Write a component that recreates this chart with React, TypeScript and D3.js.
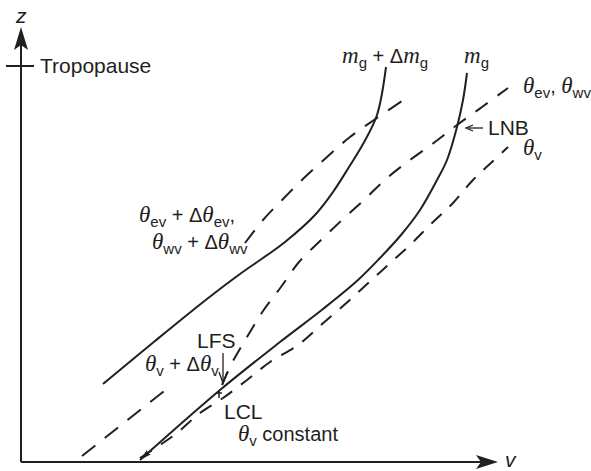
import React from 'react';
import * as d3 from 'd3';

// Conceptual axes: v (horizontal) and z (vertical), arbitrary units
const vDomain: [number, number] = [0, 477];
const zDomain: [number, number] = [0, 435];

const tropopauseZ = 396;

// m_g + Δm_g (solid)
const mgPlusDeltaCurve: [number, number][] = [
  [82, 78], [134, 121], [186, 163], [219, 188], [242, 204], [264, 220],
  [294, 247], [312, 270], [328, 295], [342, 318], [356, 347], [365, 395],
];
// m_g (solid)
const mgCurve: [number, number][] = [
  [119, 2], [199, 72], [259, 120], [302, 153], [337, 182], [359, 204],
  [380, 227], [399, 252], [416, 282], [426, 302], [436, 335], [442, 362], [446, 389],
];
// θev + Δθev, θwv + Δθwv (dashed)
const thetaEvPlusCurve: [number, number][] = [
  [224, 219], [242, 242], [263, 264], [284, 285], [306, 305], [329, 325], [356, 344], [381, 361],
];
// θev, θwv (dashed)
const thetaEvCurve: [number, number][] = [
  [201, 77], [211, 99], [226, 125], [242, 151], [260, 175], [278, 200], [299, 221],
  [321, 242], [344, 263], [366, 284], [389, 302], [414, 320], [436, 337], [461, 355], [487, 374],
];
// θv + Δθv (dashed)
const thetaVPlusCurve: [number, number][] = [
  [61, 6], [147, 74],
];
// θv (dashed)
const thetaVCurve: [number, number][] = [
  [119, 4], [139, 17], [156, 29], [179, 49], [202, 64], [226, 82], [249, 100], [277, 117],
  [300, 137], [322, 156], [345, 177], [367, 197], [389, 217], [411, 239], [432, 259],
  [452, 282], [471, 300], [487, 315],
];

const INK = '#231f20';
const SANS = '"Liberation Sans", Arial, Helvetica, sans-serif';
const SERIF = '"Liberation Serif", "Times New Roman", serif';
const FS = 21;

const x = d3.scaleLinear().domain(vDomain).range([21, 498]);
const y = d3.scaleLinear().domain(zDomain).range([462, 27]);
const line = d3
  .line<[number, number]>()
  .x((d) => x(d[0]))
  .y((d) => y(d[1]))
  .curve(d3.curveCatmullRom.alpha(0.5));

type Seg = { t: string; k: 'n' | 'it' | 'sub' };

function Label({ px, py, segs }: { px: number; py: number; segs: Seg[] }) {
  let low = false;
  const out: React.ReactNode[] = [];
  segs.forEach((s, i) => {
    let dy = 0;
    if (s.k === 'sub' && !low) { dy = 5; low = true; }
    else if (s.k !== 'sub' && low) { dy = -5; low = false; }
    const props: any = { key: i };
    if (dy) props.dy = dy;
    if (s.k === 'it') { props.fontFamily = SERIF; props.fontStyle = 'italic'; props.fontSize = 23; }
    if (s.k === 'sub') { props.fontSize = 15; }
    out.push(<tspan {...props}>{s.t}</tspan>);
  });
  return (
    <text x={px} y={py} fontFamily={SANS} fontSize={20} fill={INK} style={{ whiteSpace: 'pre' }}>
      {out}
    </text>
  );
}

function arrowHead(tipX: number, tipY: number, angle: number, len: number, half: number, notch: number) {
  const ca = Math.cos(angle), sa = Math.sin(angle);
  const pt = (a: number, b: number) => [tipX - a * ca - b * -sa, tipY - a * sa - b * ca];
  const p1 = pt(len, half);
  const p2 = pt(len - notch, 0);
  const p3 = pt(len, -half);
  return `M${tipX},${tipY}L${p1[0]},${p1[1]}L${p2[0]},${p2[1]}L${p3[0]},${p3[1]}Z`;
}

export default function App() {
  const x0 = x(0), y0 = y(0);
  const xEnd = x(vDomain[1]), yEnd = y(zDomain[1]);
  const tz = y(tropopauseZ);

  // arrow at bottom of m_g
  const a0 = mgCurve[0], a1 = mgCurve[1];
  const angMg = Math.atan2(y(a0[1]) - y(a1[1]), x(a0[0]) - x(a1[0]));

  return (
    <svg width={591} height={471} style={{ position: 'absolute', left: 0, top: 0, background: '#fff' }}>
      {/* axes */}
      <line x1={x0} y1={y0} x2={x0} y2={yEnd + 10} stroke={INK} strokeWidth={2} />
      <line x1={x0} y1={y0} x2={xEnd - 10} y2={y0} stroke={INK} strokeWidth={2} />
      <path d={arrowHead(x0, yEnd, -Math.PI / 2, 23, 7, 5)} fill={INK} />
      <path d={arrowHead(xEnd, y0, 0, 22, 7, 5)} fill={INK} />
      <line x1={6} y1={tz} x2={34} y2={tz} stroke={INK} strokeWidth={2} />
      <text x={16} y={23} fontFamily={SANS} fontStyle="italic" fontSize={FS} fill={INK}>z</text>
      <text x={505} y={467} fontFamily={SANS} fontStyle="italic" fontSize={FS} fill={INK}>v</text>
      <text x={40} y={73} fontFamily={SANS} fontSize={FS} fill={INK}>Tropopause</text>

      {/* solid curves */}
      <path d={line(mgPlusDeltaCurve) || ''} fill="none" stroke={INK} strokeWidth={2} />
      <path d={line(mgCurve) || ''} fill="none" stroke={INK} strokeWidth={2} />
      <path d={arrowHead(x(a0[0]), y(a0[1]), angMg, 12, 3, 2)} fill={INK} />

      {/* dashed curves */}
      <path d={line(thetaEvPlusCurve) || ''} fill="none" stroke={INK} strokeWidth={2} strokeDasharray="16 12" />
      <path d={line(thetaEvCurve) || ''} fill="none" stroke={INK} strokeWidth={2} strokeDasharray="15 12" />
      <path d={line(thetaVPlusCurve) || ''} fill="none" stroke={INK} strokeWidth={2} strokeDasharray="17 12" />
      <path d={line(thetaVCurve) || ''} fill="none" stroke={INK} strokeWidth={2} strokeDasharray="14 11" />

      {/* LCL bracket */}
      <line x1={219} y1={390} x2={219} y2={398} stroke={INK} strokeWidth={1.5} />
      <line x1={216} y1={393} x2={222} y2={393} stroke={INK} strokeWidth={1.5} />

      {/* LFS arrow */}
      <line x1={223} y1={353} x2={223} y2={382} stroke={INK} strokeWidth={1.3} />
      <path d="M219,372 L223,383 L227,372" fill="none" stroke={INK} strokeWidth={1.3} />

      {/* LNB arrow */}
      <line x1={468} y1={128} x2={483} y2={128} stroke={INK} strokeWidth={1.3} />
      <path d="M473,125 L466,128 L473,131" fill="none" stroke={INK} strokeWidth={1.3} />

      {/* labels */}
      <Label px={342} py={63} segs={[{ t: 'm', k: 'it' }, { t: 'g', k: 'sub' }, { t: ' + Δ', k: 'n' }, { t: 'm', k: 'it' }, { t: 'g', k: 'sub' }]} />
      <Label px={464} py={63} segs={[{ t: 'm', k: 'it' }, { t: 'g', k: 'sub' }]} />
      <Label px={523} py={93} segs={[{ t: 'θ', k: 'it' }, { t: 'ev', k: 'sub' }, { t: ', ', k: 'n' }, { t: 'θ', k: 'it' }, { t: 'wv', k: 'sub' }]} />
      <text x={488} y={135} fontFamily={SANS} fontSize={FS} fill={INK}>LNB</text>
      <Label px={523} py={155} segs={[{ t: 'θ', k: 'it' }, { t: 'v', k: 'sub' }]} />
      <Label px={139} py={222} segs={[{ t: 'θ', k: 'it' }, { t: 'ev', k: 'sub' }, { t: ' + Δ', k: 'n' }, { t: 'θ', k: 'it' }, { t: 'ev', k: 'sub' }, { t: ',', k: 'n' }]} />
      <Label px={152} py={249} segs={[{ t: 'θ', k: 'it' }, { t: 'wv', k: 'sub' }, { t: ' + Δ', k: 'n' }, { t: 'θ', k: 'it' }, { t: 'wv', k: 'sub' }]} />
      <text x={197} y={348} fontFamily={SANS} fontSize={FS} fill={INK}>LFS</text>
      <Label px={145} py={371} segs={[{ t: 'θ', k: 'it' }, { t: 'v', k: 'sub' }, { t: ' + Δ', k: 'n' }, { t: 'θ', k: 'it' }, { t: 'v', k: 'sub' }]} />
      <text x={224} y={419} fontFamily={SANS} fontSize={FS} fill={INK}>LCL</text>
      <Label px={238} py={441} segs={[{ t: 'θ', k: 'it' }, { t: 'v', k: 'sub' }, { t: ' constant', k: 'n' }]} />
    </svg>
  );
}
